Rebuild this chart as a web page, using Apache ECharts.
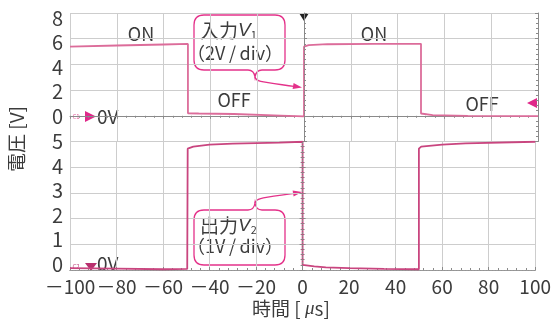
<!DOCTYPE html>
<html><head><meta charset="utf-8">
<script src="https://cdn.jsdelivr.net/npm/echarts@6/dist/echarts.min.js"></script>
<style>html,body{margin:0;padding:0;background:#fff}#c{width:554px;height:322px}</style>
</head><body><div id="c"></div>
<script>
// ---- data ----
const timeTicks = [-100, -80, -60, -40, -20, 0, 20, 40, 60, 80, 100];
const v1Labels = [0, 2, 4, 6, 8];
const v2Labels = [0, 1, 2, 3, 4, 5];
const v1Time = [-100, -80, -60, -49.6, -49.6, -45, -30, -10, 0, 0, 2, 10, 30, 50, 50, 55, 70, 100];
const v1Volt = [5.38, 5.47, 5.55, 5.59, 0.2, 0.18, 0.14, 0.02, -0.05, 5.38, 5.5, 5.57, 5.6, 5.6, 0.18, 0.06, 0.0, -0.03];
const v2Time = [-100, -80, -60, -49.6, -49.4, -47, -40, -30, -10, 0, 0, 5, 10, 20, 35, 50, 50, 51, 60, 70, 100];
const v2Volt = [0.07, 0.05, 0.03, 0.04, 4.72, 4.8, 4.88, 4.92, 4.96, 4.99, 0.2, 0.14, 0.1, 0.07, 0.04, 0.03, 4.72, 4.8, 4.88, 4.93, 4.99];

const JP = "'Noto Sans CJK JP', sans-serif";
const TXT = '#3c3c3c';
const PINK = '#e4328a';
const BORDER = '#8a8a8a';
const GRIDC = '#cdcdcd';

// callout shapes (annotation outlines, not data)
echarts.graphic.registerShape('callout1', echarts.graphic.extendPath(
  'M204,15 L275,15 Q285,15 285,25 L285,60 Q285,70 275,70 L262,70 Q256,70 255,77 Q254,70 248,70 L204,70 Q194,70 194,60 L194,25 Q194,15 204,15 Z', {}));
echarts.graphic.registerShape('callout2', echarts.graphic.extendPath(
  'M204,210 L248,210 Q254,210 255,203 Q256,210 262,210 L275,210 Q285,210 285,220 L285,255 Q285,265 275,265 L204,265 Q194,265 194,255 L194,220 Q194,210 204,210 Z', {}));

const chart = echarts.init(document.getElementById('c'), null, {renderer: 'canvas'});
const xMin = timeTicks[0], xMax = timeTicks[timeTicks.length - 1], xStep = timeTicks[1] - timeTicks[0];

function borderAxis(extra) {
  return Object.assign({
    axisLine: {show: true, lineStyle: {color: BORDER, width: 1}},
    axisTick: {show: true, inside: true, length: 3, lineStyle: {color: BORDER}},
    minorTick: {show: true, splitNumber: 5, length: 2, lineStyle: {color: BORDER}},
    axisLabel: {show: false},
    splitLine: {show: false}
  }, extra);
}

const option = {
  animation: false,
  backgroundColor: '#fff',
  grid: [
    {left: 70, width: 468, top: 13, height: 128.5},
    {left: 70, width: 468, top: 141.5, height: 128.5}
  ],
  xAxis: [
    borderAxis({type: 'value', gridIndex: 0, position: 'top', min: xMin, max: xMax, interval: xStep,
      splitLine: {show: true, lineStyle: {color: GRIDC}}}),
    borderAxis({type: 'value', gridIndex: 1, position: 'bottom', min: xMin, max: xMax, interval: xStep,
      splitLine: {show: true, lineStyle: {color: GRIDC}},
      axisLabel: {show: true, fontSize: 19, color: TXT, fontFamily: JP, margin: 7,
        formatter: v => v < 0 ? '－' + (-v) : String(v)}}),
    borderAxis({type: 'value', gridIndex: 1, position: 'top', min: xMin, max: xMax, interval: xStep,
      axisLine: {show: true, lineStyle: {color: '#999', width: 1, type: [2, 1]}},
      axisTick: {show: false}, minorTick: {show: false}})
  ],
  yAxis: [
    borderAxis({type: 'value', gridIndex: 0, position: 'left', min: -2, max: 8, interval: 2,
      splitLine: {show: true, lineStyle: {color: GRIDC}}}),
    borderAxis({type: 'value', gridIndex: 0, position: 'right', min: -2, max: 8, interval: 2}),
    {type: 'value', gridIndex: 0, position: 'left', min: -2.08, max: 8.41,
      axisLine: {show: false}, axisTick: {show: false}, splitLine: {show: false},
      axisLabel: {show: true, customValues: v1Labels, fontSize: 20, color: TXT, fontFamily: JP, margin: 7}},
    borderAxis({type: 'value', gridIndex: 1, position: 'left', min: 0, max: 5, interval: 1,
      splitLine: {show: true, lineStyle: {color: GRIDC}}}),
    borderAxis({type: 'value', gridIndex: 1, position: 'right', min: 0, max: 5, interval: 1}),
    {type: 'value', gridIndex: 1, position: 'left', min: -0.245, max: 5,
      axisLine: {show: false}, axisTick: {show: false}, splitLine: {show: false},
      axisLabel: {show: true, customValues: v2Labels, fontSize: 20, color: TXT, fontFamily: JP, margin: 7}}
  ],
  series: [
    {type: 'line', xAxisIndex: 0, yAxisIndex: 0, showSymbol: false, silent: true,
      data: v1Time.map((t, i) => [t, v1Volt[i]]),
      lineStyle: {color: '#dc6c9a', width: 1.8},
      markLine: {silent: true, symbol: 'none', label: {show: false},
        lineStyle: {color: '#888', type: [2, 1], width: 1}, data: [{xAxis: 0}]}},
    {type: 'line', xAxisIndex: 1, yAxisIndex: 3, showSymbol: false, silent: true,
      data: v2Time.map((t, i) => [t, v2Volt[i]]),
      lineStyle: {color: '#c9457f', width: 1.8},
      markLine: {silent: true, symbol: 'none', label: {show: false},
        lineStyle: {color: '#888', type: [2, 1], width: 1}, data: [{xAxis: 0}]}}
  ],
  graphic: [
    // axis titles
    {type: 'text', x: 17, y: 139, rotation: Math.PI / 2,
      style: {text: '電圧 [V]', fontSize: 19, fill: TXT, fontFamily: JP, align: 'center', verticalAlign: 'middle'}},
    {type: 'text', x: 291, y: 309,
      style: {text: '{a|時間 [ }{m|μ}{a|s]}', align: 'center', verticalAlign: 'middle',
        rich: {a: {fontSize: 19, fill: TXT, fontFamily: JP},
               m: {fontSize: 19, fill: TXT, fontFamily: "'Liberation Serif', serif", fontStyle: 'italic'}}}},
    // state labels
    {type: 'text', x: 141, y: 34, style: {text: 'ON', fontSize: 18, fill: TXT, fontFamily: JP, align: 'center', verticalAlign: 'middle'}},
    {type: 'text', x: 374, y: 34, style: {text: 'ON', fontSize: 18, fill: TXT, fontFamily: JP, align: 'center', verticalAlign: 'middle'}},
    {type: 'text', x: 234, y: 100, style: {text: 'OFF', fontSize: 18, fill: TXT, fontFamily: JP, align: 'center', verticalAlign: 'middle'}},
    {type: 'text', x: 482, y: 104, style: {text: 'OFF', fontSize: 18, fill: TXT, fontFamily: JP, align: 'center', verticalAlign: 'middle'}},
    // channel markers
    {type: 'text', x: 76, y: 117, style: {text: 'C1', fontSize: 6, fill: '#e05a9a', fontFamily: JP, align: 'center', verticalAlign: 'middle'}},
    {type: 'polygon', shape: {points: [[85, 111], [85, 122], [96, 116.5]]}, style: {fill: '#e0288a'}},
    {type: 'text', x: 97, y: 117, style: {text: '0V', fontSize: 19, fill: TXT, fontFamily: JP, align: 'left', verticalAlign: 'middle'}},
    {type: 'text', x: 76, y: 267, style: {text: 'C2', fontSize: 6, fill: '#c04a80', fontFamily: JP, align: 'center', verticalAlign: 'middle'}},
    {type: 'polygon', shape: {points: [[85, 263], [97, 263], [91, 271]]}, style: {fill: '#b8306e'}},
    {type: 'text', x: 97, y: 264, style: {text: '0V', fontSize: 19, fill: TXT, fontFamily: JP, align: 'left', verticalAlign: 'middle'}},
    {type: 'polygon', shape: {points: [[537, 98], [537, 108], [527, 103]]}, style: {fill: '#e0288a'}},
    {type: 'polygon', shape: {points: [[299, 13], [309, 13], [304, 21]]}, style: {fill: '#222'}},
    // callout 1
    {type: 'callout1', style: {fill: '#fff', stroke: PINK, lineWidth: 1.3}},
    {type: 'bezierCurve', shape: {x1: 255, y1: 77, cpx1: 256, cpy1: 82, cpx2: 262, cpy2: 82, x2: 294, y2: 86.3},
      style: {fill: null, stroke: PINK, lineWidth: 1.3}},
    {type: 'polygon', shape: {points: [[302, 87.5], [293.6, 83.1], [292.6, 89.1]]}, style: {fill: PINK}},
    {type: 'text', x: 200, y: 31, style: {text: '{a|入力}{v|V}{s|1}', align: 'left', verticalAlign: 'middle',
      rich: {a: {fontSize: 19, fill: TXT, fontFamily: JP},
             v: {fontSize: 19, fill: TXT, fontFamily: "'Liberation Sans', sans-serif", fontStyle: 'italic'},
             s: {fontSize: 11, fill: TXT, fontFamily: JP, verticalAlign: 'bottom', padding: [6, 0, 0, 0]}}}},
    {type: 'text', x: 187, y: 53, style: {text: '（2V\u2009/\u2009div）', fontSize: 18, fill: TXT, fontFamily: JP, align: 'left', verticalAlign: 'middle'}},
    // callout 2
    {type: 'callout2', style: {fill: '#fff', stroke: PINK, lineWidth: 1.3}},
    {type: 'bezierCurve', shape: {x1: 255, y1: 203, cpx1: 256, cpy1: 198, cpx2: 262, cpy2: 198, x2: 294, y2: 193.4},
      style: {fill: null, stroke: PINK, lineWidth: 1.3}},
    {type: 'polygon', shape: {points: [[302, 192], [293.6, 196.5], [292.6, 190.5]]}, style: {fill: PINK}},
    {type: 'text', x: 200, y: 226, style: {text: '{a|出力}{v|V}{s|2}', align: 'left', verticalAlign: 'middle',
      rich: {a: {fontSize: 19, fill: TXT, fontFamily: JP},
             v: {fontSize: 19, fill: TXT, fontFamily: "'Liberation Sans', sans-serif", fontStyle: 'italic'},
             s: {fontSize: 11, fill: TXT, fontFamily: JP, verticalAlign: 'bottom', padding: [6, 0, 0, 0]}}}},
    {type: 'text', x: 187, y: 246, style: {text: '（1V\u2009/\u2009div）', fontSize: 18, fill: TXT, fontFamily: JP, align: 'left', verticalAlign: 'middle'}}
  ]
};
chart.setOption(option);
</script>
</body></html>
